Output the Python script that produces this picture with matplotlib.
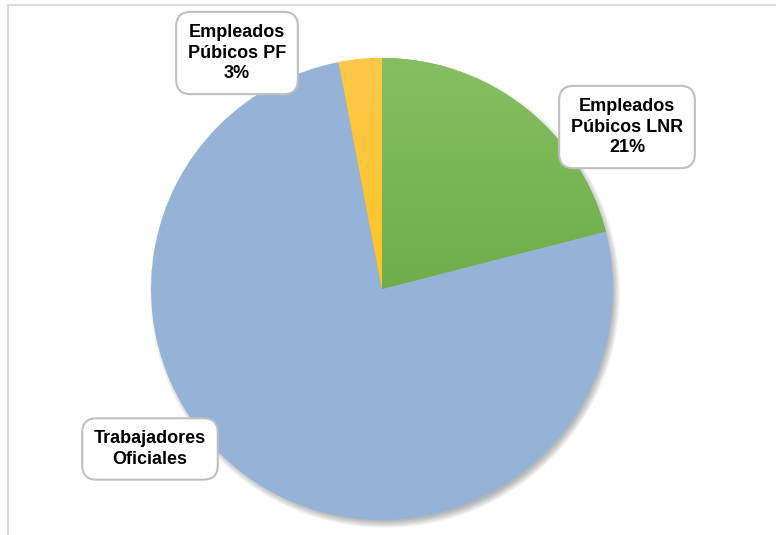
import matplotlib.pyplot as plt
import numpy as np
from matplotlib.lines import Line2D
from matplotlib.patches import Circle
from matplotlib.colors import LinearSegmentedColormap

# Datos
categorias = ['Empleados\nPúbicos LNR', 'Trabajadores\nOficiales', 'Empleados\nPúbicos PF']
porcentajes = [21, 76, 3]
mostrar_pct = [True, False, True]
colores = ['#70ad47', '#95b3d7', '#ffc000']

plt.rcParams['font.family'] = ['Liberation Sans', 'DejaVu Sans']

W, H = 776, 535
fig = plt.figure(figsize=(W / 100, H / 100), dpi=100)
ax = fig.add_axes([0, 0, 1, 1])

cx, cy, r = 382, H - 289, 231

# Sombra suave abajo a la derecha
for i in range(8):
    ax.add_patch(Circle((cx + 3, cy - 4), r + 4 - i, color='black',
                        alpha=0.04, lw=0, zorder=1))

wedges, _ = ax.pie(porcentajes, colors=colores, startangle=90, counterclock=False,
                   center=(cx, cy), radius=r, frame=True,
                   wedgeprops=dict(linewidth=0, zorder=2))
ax.set_xlim(0, W)
ax.set_ylim(0, H)
ax.set_aspect('equal')
ax.axis('off')

# Degradados de los sectores verde y amarillo
grad = np.linspace(0, 1, 256).reshape(-1, 1)
for idx, (c0, c1) in [(0, ('#5a9a30', '#86bf62')), (2, ('#ffc000', '#fec84a'))]:
    cmap = LinearSegmentedColormap.from_list(f'g{idx}', [c0, c1])
    im = ax.imshow(grad, cmap=cmap, origin='lower', aspect='auto',
                   extent=(cx - r, cx + r, cy - r, cy + r), zorder=3)
    im.set_clip_path(wedges[idx])

# Etiquetas
pos_etiquetas = [(627, 127), (150, 449), (237, 53)]
for cat, pct, mp, (px, py) in zip(categorias, porcentajes, mostrar_pct, pos_etiquetas):
    texto = cat + (f'\n{pct}%' if mp else '')
    ax.text(px, H - py, texto, ha='center', va='center', fontsize=13,
            fontweight='bold', linespacing=1.3, zorder=5,
            bbox=dict(boxstyle='round,pad=0.65,rounding_size=0.8', fc='white',
                      ec='#bfbfbf', lw=1.5))

# Borde del área del gráfico
fig.add_artist(Line2D([8 / W, 1], [1 - 5 / H, 1 - 5 / H], color='#d9d9d9', lw=1.5))
fig.add_artist(Line2D([8 / W, 8 / W], [0, 1 - 5 / H], color='#d9d9d9', lw=1.5))

fig.savefig('out.png', dpi=100)
